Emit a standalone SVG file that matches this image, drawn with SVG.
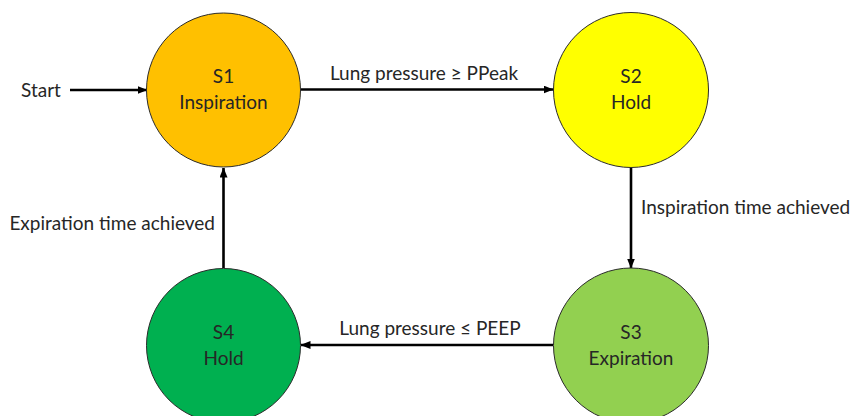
<svg xmlns="http://www.w3.org/2000/svg" width="855" height="416" viewBox="0 0 855 416">
<defs>
<style>
.node{stroke:#2b2b2b;stroke-width:1}
.t{font-family:Lato,"Open Sans","Liberation Sans",sans-serif;font-size:19px;fill:#262626;text-anchor:middle}
.lbl{font-family:Lato,"Open Sans","Liberation Sans",sans-serif;font-size:19px;fill:#262626}
.edge{stroke:#000;stroke-width:2.6;fill:none}
</style>
<marker id="ah" markerWidth="10" markerHeight="8" refX="9.5" refY="4" orient="auto" markerUnits="userSpaceOnUse">
<path d="M0,0 L10,4 L0,8 Z" fill="#000"/>
</marker>
</defs>
<rect width="855" height="416" fill="#fff"/>
<g id="connectors">
<line class="edge" x1="70" y1="90" x2="147" y2="90" marker-end="url(#ah)"/>
<line class="edge" x1="301" y1="89.5" x2="553" y2="89.5" marker-end="url(#ah)"/>
<line class="edge" x1="631" y1="168" x2="631" y2="268" marker-end="url(#ah)"/>
<line class="edge" x1="553" y1="345" x2="301" y2="345" marker-end="url(#ah)"/>
<line class="edge" x1="223.5" y1="268" x2="223.5" y2="168" marker-end="url(#ah)"/>
<text class="lbl" x="21" y="97">Start</text>
<text class="lbl" x="424" y="80" text-anchor="middle">Lung pressure ≥ PPeak</text>
<text class="lbl" x="641" y="214">Inspiration time achieved</text>
<text class="lbl" x="430" y="335" text-anchor="middle">Lung pressure ≤ PEEP</text>
<text class="lbl" x="215" y="230" text-anchor="end">Expiration time achieved</text>
</g>
<g id="S1">
<circle class="node" cx="223.5" cy="90" r="77" fill="#FFC000"/>
<text class="t" x="223.5" y="83">S1</text>
<text class="t" x="223.5" y="109">Inspiration</text>
</g>
<g id="S2">
<circle class="node" cx="631" cy="90" r="77.5" fill="#FFFF00"/>
<text class="t" x="631" y="83">S2</text>
<text class="t" x="631" y="109">Hold</text>
</g>
<g id="S3">
<circle class="node" cx="631" cy="345.5" r="77.5" fill="#92D050"/>
<text class="t" x="631" y="339">S3</text>
<text class="t" x="631" y="365">Expiration</text>
</g>
<g id="S4">
<circle class="node" cx="223.5" cy="345.5" r="77" fill="#00B050"/>
<text class="t" x="223.5" y="339">S4</text>
<text class="t" x="223.5" y="365">Hold</text>
</g>
</svg>
